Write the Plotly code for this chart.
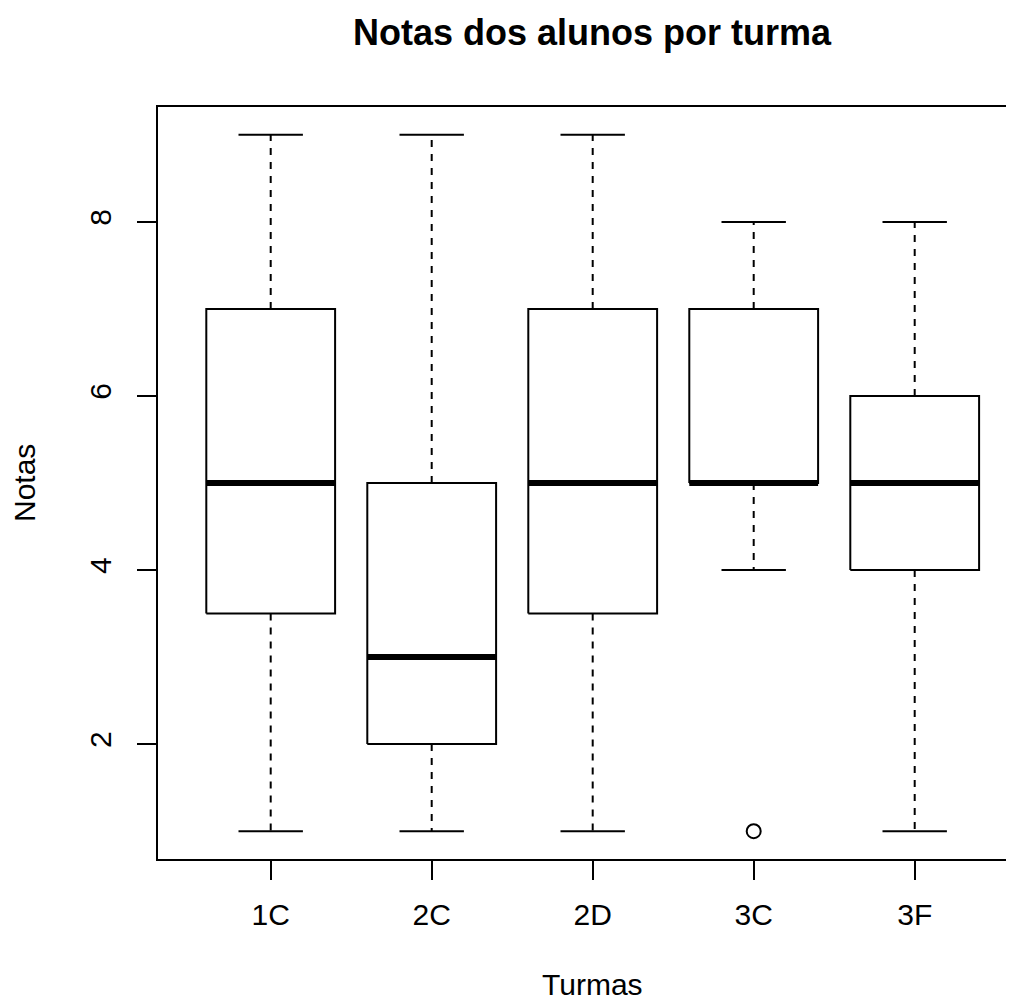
import plotly.graph_objects as go

# ---- data ----
turmas = ["1C", "2C", "2D", "3C", "3F"]
minimo = [1, 1, 1, 4, 1]
q1 = [3.5, 2, 3.5, 5, 4]
mediana = [5, 3, 5, 5, 5]
q3 = [7, 5, 7, 7, 6]
maximo = [9, 9, 9, 8, 8]
outlier_turma = ["3C"]
outlier_nota = [1]
y_ticks = [2, 4, 6, 8]

pos = list(range(1, len(turmas) + 1))
BOX_HALF = 0.4
CAP_HALF = 0.2

FONT = "Liberation Sans, Arial, Helvetica, sans-serif"
LW = 2

# page body has an 8px margin, so the figure is placed at (8, 8)
FIG_W, FIG_H = 1006, 992
M_L, M_T, M_B = 150, 99, 141
PX_PER_X = 161.0
X0 = 0.3
X_FULL_END = 5.7  # R's full x extent (plot partly cut at the right)
plot_w = FIG_W - M_L
x_range = [X0, X0 + plot_w / PX_PER_X]
title_x = 0.5 * (X_FULL_END - X0) / (plot_w / PX_PER_X)

box_x, box_y = [], []
med_x, med_y = [], []
wh_x, wh_y = [], []
cap_x, cap_y = [], []
for p, lo, a, m, b, hi in zip(pos, minimo, q1, mediana, q3, maximo):
    box_x += [p - BOX_HALF, p + BOX_HALF, p + BOX_HALF, p - BOX_HALF, p - BOX_HALF, None]
    box_y += [a, a, b, b, a, None]
    med_x += [p - BOX_HALF, p + BOX_HALF, None]
    med_y += [m, m, None]
    wh_x += [p, p, None, p, p, None]
    wh_y += [b, hi, None, a, lo, None]
    cap_x += [p - CAP_HALF, p + CAP_HALF, None, p - CAP_HALF, p + CAP_HALF, None]
    cap_y += [hi, hi, None, lo, lo, None]

out_x = [pos[turmas.index(t)] for t in outlier_turma]

fig = go.Figure()
fig.add_trace(go.Scatter(x=wh_x, y=wh_y, mode="lines",
                         line=dict(color="black", width=LW, dash="7px,7px"),
                         hoverinfo="skip"))
fig.add_trace(go.Scatter(x=cap_x, y=cap_y, mode="lines",
                         line=dict(color="black", width=LW), hoverinfo="skip"))
fig.add_trace(go.Scatter(x=box_x, y=box_y, mode="lines",
                         line=dict(color="black", width=LW), hoverinfo="skip"))
fig.add_trace(go.Scatter(x=med_x, y=med_y, mode="lines",
                         line=dict(color="black", width=6), hoverinfo="skip"))
fig.add_trace(go.Scatter(x=out_x, y=outlier_nota, mode="markers",
                         marker=dict(symbol="circle-open", size=14, color="black",
                                     line=dict(width=2, color="black")),
                         hoverinfo="skip"))

fig.update_layout(
    width=FIG_W, height=FIG_H,
    margin=dict(l=M_L, r=0, t=M_T, b=M_B, pad=0),
    paper_bgcolor="white", plot_bgcolor="white",
    showlegend=False,
    font=dict(family=FONT, size=30, color="black"),
    xaxis=dict(range=x_range, tickvals=pos, ticktext=turmas,
               showgrid=False, zeroline=False, showline=True, mirror=True,
               linecolor="black", linewidth=LW, ticks="outside", ticklen=19,
               tickwidth=LW, tickcolor="black", ticklabelstandoff=9,
               tickfont=dict(size=30, family=FONT, color="black")),
    yaxis=dict(range=[0.68, 9.32], tickvals=y_ticks,
               showgrid=False, zeroline=False, showline=True, mirror=False,
               linecolor="black", linewidth=LW, ticks="outside", ticklen=19,
               tickwidth=LW, tickcolor="black", tickangle=-90,
               ticklabelstandoff=14,
               tickfont=dict(size=30, family=FONT, color="black")),
    annotations=[
        dict(text="<b>Notas dos alunos por turma</b>", xref="paper", yref="paper",
             x=title_x, y=1, yshift=75, xanchor="center", yanchor="middle",
             showarrow=False, font=dict(size=36, family=FONT, color="black")),
        dict(text="Turmas", xref="paper", yref="paper",
             x=title_x, y=0, yshift=-125,
             xanchor="center", yanchor="middle", showarrow=False,
             font=dict(size=30, family=FONT, color="black")),
        dict(text="Notas", xref="paper", yref="paper", x=0, xshift=-134, y=0.5,
             xanchor="center", yanchor="middle", textangle=-90, showarrow=False,
             font=dict(size=30, family=FONT, color="black")),
    ],
)

fig.write_html("out.html")
